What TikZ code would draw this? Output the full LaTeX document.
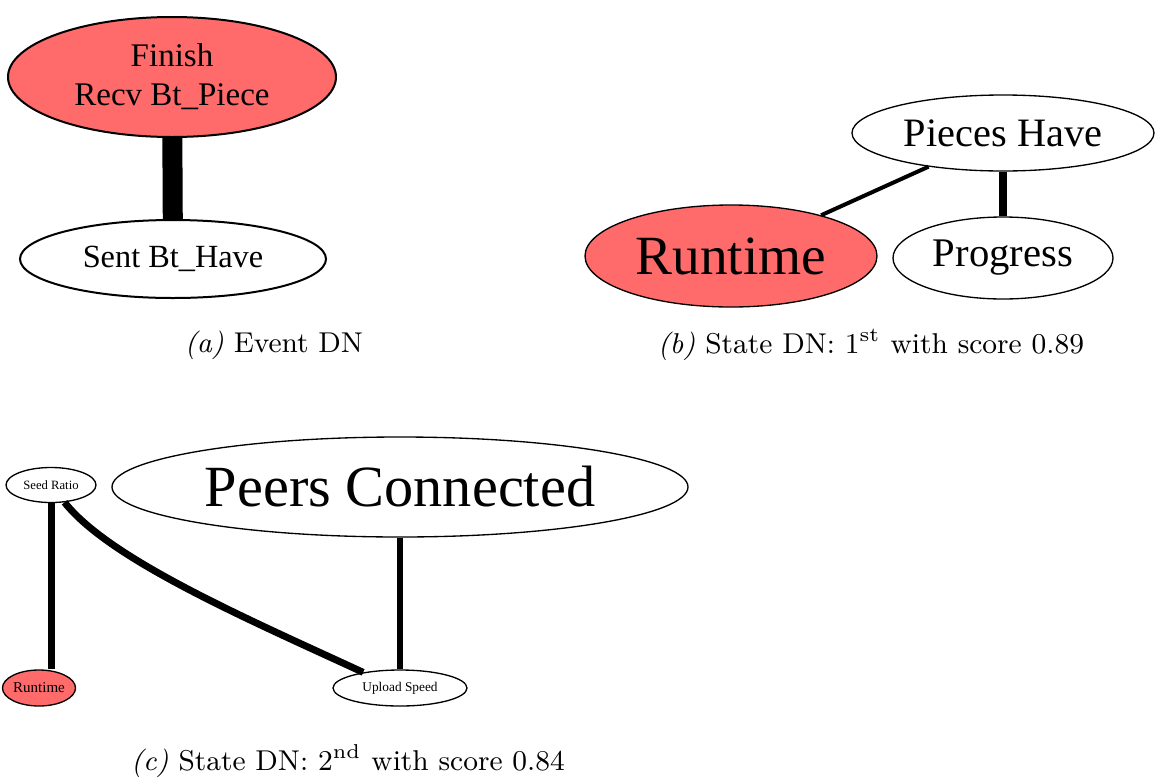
\documentclass[tikz,border=0pt]{standalone}
\usepackage{fontspec}
\newfontfamily\tnr{Liberation Serif}
\usetikzlibrary{shapes.geometric}
\definecolor{hotred}{HTML}{FF6A6A}

\begin{document}
\begin{tikzpicture}[
    x=0.3pt, y=-0.3pt,
    vert/.style={draw, ellipse, inner sep=0pt, line width=0.4pt},
    hot/.style={vert, fill=hotred},
    subcap/.style={font=\fontsize{8.6}{10.5}\selectfont}
]
    \useasboundingbox (0,0) rectangle (1155,779);

    % (a) Event DN
    \node[hot, line width=0.6pt, minimum width=98.4pt, minimum height=36pt, align=center,
          font=\tnr\fontsize{9.9}{11.6}\selectfont] (finish) at (172,77) {Finish\\Recv Bt\_Piece};
    \node[vert, line width=0.6pt, minimum width=91.8pt, minimum height=23.4pt,
          font=\tnr\fontsize{9.7}{12}\selectfont] (sent) at (173,259) {Sent Bt\_Have};
    \draw[line width=6pt] (finish) -- (sent);
    \node[subcap] (capa) at (274,345) {\textit{(a)} Event DN};

    % (b) State DN, first
    \node[vert, minimum width=90.6pt, minimum height=22.8pt,
          font=\tnr\fontsize{12.1}{14}\selectfont] (pieces) at (1003,133) {Pieces Have};
    \node[hot, minimum width=87.6pt, minimum height=30.6pt,
          font=\tnr\fontsize{16.6}{19}\selectfont] (runb) at (731,256) {Runtime};
    \node[vert, minimum width=66pt, minimum height=24.6pt,
          font=\tnr\fontsize{12.2}{14}\selectfont] (progress) at (1003,258) {Progress};
    \draw[line width=1.2pt] (pieces) -- (runb);
    \draw[line width=2.4pt] (pieces) -- (progress);
    \node[subcap] (capb) at (871,345) {\textit{(b)} State DN: 1\textsuperscript{st} with score 0.89};

    % (c) State DN, second
    \node[vert, minimum width=27pt, minimum height=10.5pt,
          font=\tnr\fontsize{3.8}{4}\selectfont] (seed) at (51,485) {Seed Ratio};
    \node[vert, minimum width=172.8pt, minimum height=30pt,
          font=\tnr\fontsize{17.5}{20}\selectfont] (peers) at (400,487) {Peers Connected};
    \node[hot, minimum width=21.6pt, minimum height=10.8pt,
          font=\tnr\fontsize{4.5}{5}\selectfont] (runc) at (39,688) {Runtime};
    \node[vert, minimum width=40.2pt, minimum height=10.8pt,
          font=\tnr\fontsize{4}{5}\selectfont] (upload) at (400,688) {Upload Speed};
    \draw[line width=2.1pt] (seed.south) -- (seed.south |- runc.north);
    \draw[line width=2.1pt] (seed.-52) .. controls (110,560) and (250,620) .. (upload.157);
    \draw[line width=1.8pt] (peers) -- (upload);
    \node[subcap] (capc) at (348,761) {\textit{(c)} State DN: 2\textsuperscript{nd} with score 0.84};
\end{tikzpicture}
\end{document}
